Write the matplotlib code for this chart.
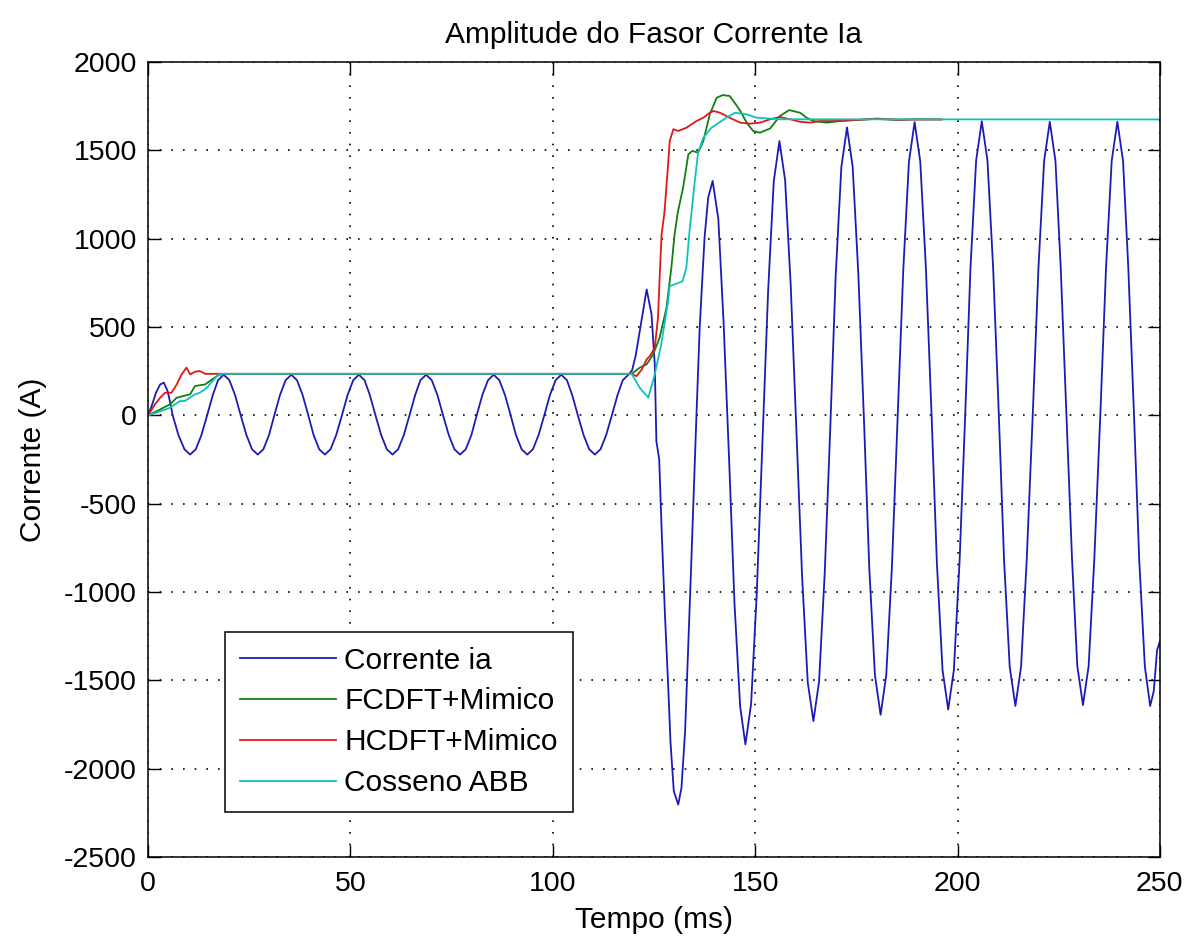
import matplotlib
matplotlib.use("Agg")
import matplotlib.pyplot as plt

plt.rcParams["font.family"] = ["Liberation Sans", "DejaVu Sans"]
plt.rcParams["axes.unicode_minus"] = False

# Corrente ia (A) - amostras
ia_t = [0, 1.0, 2.0, 3.0, 3.9, 4.8, 5.5, 6.1, 7.5, 9.0,
        10.4, 11.8, 13.2, 14.6, 16.0, 17.3, 18.7, 20.1, 21.5, 22.9, 24.3, 25.7,
        27.1, 28.5, 29.9, 31.2, 32.6, 34.0, 35.4, 36.8, 38.2, 39.6, 40.9, 42.3,
        43.7, 45.1, 46.5, 47.9, 49.3, 50.7, 52.1, 53.5, 54.8, 56.2, 57.6, 59.0,
        60.4, 61.8, 63.2, 64.6, 66.0, 67.3, 68.7, 70.1, 71.5, 72.9, 74.3, 75.7,
        77.1, 78.5, 79.9, 81.2, 82.6, 84.0, 85.4, 86.8, 88.2, 89.6, 90.9, 92.3,
        93.7, 95.1, 96.5, 97.9, 99.3, 100.7, 102.1, 103.5, 104.8, 106.2, 107.6, 109.0,
        110.4, 111.8, 113.2, 114.6, 116.0, 117.3, 118.7,
        119.6, 120.5, 121.3, 122.3, 123.2, 124.4, 125.2, 125.6, 126.3, 126.9,
        127.7, 128.5, 129.1, 129.9, 131.0,
        131.8, 132.7, 133.4, 134.2, 135.5, 136.3, 137.5, 138.4, 139.5,
        140.9, 142.2, 143.6, 144.9, 146.3, 147.6,
        149.0, 150.4, 151.8, 153.2, 154.6, 156.0,
        157.4, 158.8, 160.2, 161.6, 163.0, 164.4,
        165.8, 167.2, 168.6, 169.9, 171.3, 172.7,
        174.1, 175.5, 176.9, 178.2, 179.6, 181.0,
        182.4, 183.8, 185.2, 186.6, 188.0, 189.4,
        190.8, 192.2, 193.6, 194.9, 196.3, 197.7,
        199.1, 200.5, 201.9, 203.2, 204.6, 206.0,
        207.4, 208.8, 210.2, 211.5, 212.9, 214.3,
        215.7, 217.1, 218.6, 220.0, 221.4, 222.8,
        224.2, 225.5, 226.9, 228.3, 229.6, 231.0,
        232.4, 233.8, 235.3, 236.7, 238.1, 239.5,
        240.9, 242.2, 243.6, 244.9, 246.3, 247.6,
        248.5, 249.3, 250.0]
ia_v = [0, 60, 130, 175, 185, 140, 70, 0, -111, -192,
        -222, -192, -111, 0, 115, 199, 230, 199, 115, 0, -111, -192,
        -222, -192, -111, 0, 115, 199, 230, 199, 115, 0, -111, -192,
        -222, -192, -111, 0, 115, 199, 230, 199, 115, 0, -111, -192,
        -222, -192, -111, 0, 115, 199, 230, 199, 115, 0, -111, -192,
        -222, -192, -111, 0, 115, 199, 230, 199, 115, 0, -111, -192,
        -222, -192, -111, 0, 115, 199, 230, 199, 115, 0, -111, -192,
        -222, -192, -111, 0, 115, 199, 230,
        255, 340, 450, 590, 713, 572, 289, -146, -250, -650,
        -1118, -1523, -1854, -2127, -2203,
        -2108, -1788, -1350, -850, 0, 496, 1005, 1232, 1327,
        1114, 529, -268, -1065, -1649, -1863,
        -1634, -1009, -155, 699, 1324, 1553,
        1333, 732, -89, -910, -1511, -1731,
        -1505, -890, -50, 790, 1405, 1630,
        1407, 799, -32, -863, -1471, -1695,
        -1469, -856, -17, 822, 1435, 1660,
        1437, 829, -2, -833, -1441, -1665,
        -1442, -832, 0, 832, 1442, 1665,
        1443, 838, 10, -818, -1423, -1645,
        -1424, -819, 8, 835, 1440, 1662,
        1441, 837, 11, -815, -1419, -1640,
        -1419, -815, 11, 837, 1441, 1662,
        1440, 835, 8, -819, -1424, -1645,
        -1560, -1330, -1280]

# FCDFT+Mimico
fc_t = [0, 2.7, 5.4, 7.1, 8.8, 10.4, 11.6, 14.1, 15.6, 17.0, 18.2,
        119.5, 121.5, 123.2, 124.8, 126.4, 128.1, 129.3, 130.1, 130.9, 132.2,
        133.5, 134.5, 135.9, 137.2, 138.8, 140.5, 142.0, 143.7, 145.4, 146.6,
        147.9, 149.5, 151.2, 153.7, 156.1, 158.4, 161.1, 162.7, 164.4, 167.7,
        171.0, 175.0, 180.0, 185.0, 190.0, 196.0]
fc_v = [0, 30, 62, 100, 110, 119, 166, 175, 200, 222, 235,
        235, 270, 289, 345, 440, 609, 836, 1025, 1150, 1289,
        1478, 1497, 1487, 1553, 1704, 1798, 1813, 1808, 1755, 1713,
        1657, 1610, 1600, 1624, 1694, 1728, 1713, 1685, 1666, 1657,
        1666, 1672, 1678, 1672, 1676, 1675]

# HCDFT+Mimico
hc_t = [0, 1.7, 3.0, 4.2, 5.8, 7.1, 8.3, 9.5, 10.4, 11.6, 12.8, 14.1,
        119.5, 120.7, 122.0, 123.2, 124.0, 125.2, 126.0, 126.4, 126.9, 127.6,
        128.5, 128.9, 129.8, 131.0, 133.0, 135.5, 137.2, 138.8, 139.7, 141.3,
        143.7, 146.3, 148.7, 151.2, 153.7, 156.1, 158.6, 161.1, 163.6, 166.0,
        169.3, 175.0, 180.0, 185.0, 196.0]
hc_v = [0, 62, 100, 128, 128, 175, 232, 270, 232, 247, 251, 235,
        235, 222, 260, 317, 336, 383, 553, 779, 1025, 1150,
        1421, 1553, 1620, 1610, 1628, 1666, 1685, 1713, 1723, 1713,
        1685, 1657, 1651, 1657, 1676, 1689, 1676, 1662, 1657, 1666,
        1666, 1672, 1680, 1674, 1675]

# Cosseno ABB
abb_t = [0, 2.7, 5.4, 7.9, 9.1, 11.6, 12.8, 14.5, 17.0, 17.8,
         119.5, 121.5, 123.6, 125.2, 126.8, 128.5, 128.9, 130.5, 132.1, 133.0,
         133.8, 135.1, 135.9, 137.2, 139.2, 142.9, 145.0, 147.9, 150.4, 156.1,
         250.0]
abb_v = [0, 20, 43, 81, 81, 119, 128, 156, 222, 235,
         235, 156, 100, 232, 402, 647, 732, 745, 760, 836,
         1044, 1327, 1487, 1572, 1628, 1685, 1713, 1704, 1685, 1676,
         1675]

fig = plt.figure(figsize=(11.89, 9.40), dpi=100)
ax = fig.add_axes([0.1245, 0.0883, 0.851, 0.8457])

lw = 1.3
ax.plot(ia_t, ia_v, color="#1c1cb4", lw=lw, label="Corrente ia")
ax.plot(fc_t, fc_v, color="#108010", lw=lw, label="FCDFT+Mimico")
ax.plot(hc_t, hc_v, color="#e01818", lw=lw, label="HCDFT+Mimico")
ax.plot(abb_t, abb_v, color="#10c0c0", lw=lw, label="Cosseno ABB")

ax.set_xlim(0, 250)
ax.set_ylim(-2500, 2000)
ax.set_xticks(range(0, 251, 50))
ax.set_yticks(range(-2500, 2001, 500))
ax.grid(True, color="black", linestyle=(0, (1, 6)), linewidth=1.2)

ax.tick_params(direction="in", length=9, width=1, top=True, right=True,
               labelsize=20.5)
ax.tick_params(axis="x", pad=10)
ax.tick_params(axis="y", pad=8)
for s in ax.spines.values():
    s.set_linewidth(1.1)

ax.set_title("Amplitude do Fasor Corrente Ia", fontsize=21.5, pad=14)
ax.set_xlabel("Tempo (ms)", fontsize=21.5)
ax.set_ylabel("Corrente (A)", fontsize=21.5)
ax.xaxis.set_label_coords(0.5, -0.062)
ax.yaxis.set_label_coords(-0.10, 0.5)

leg = ax.legend(loc="upper left", bbox_to_anchor=(0.0761, 0.2834),
                borderaxespad=0, fontsize=21.5, handlelength=3.2,
                handletextpad=0.3, labelspacing=0.43, fancybox=False,
                edgecolor="black", framealpha=1, borderpad=0.5)
leg.get_frame().set_linewidth(1.1)

fig.savefig("out.png", dpi=100)
